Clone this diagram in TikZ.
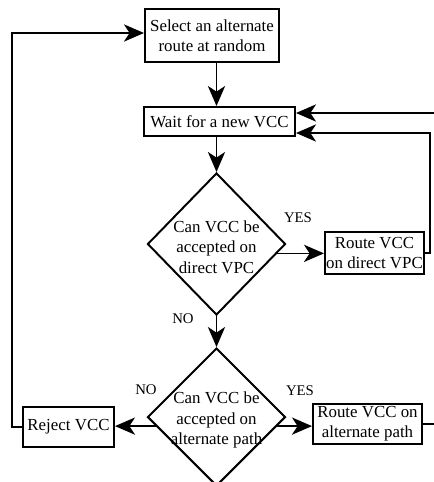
\documentclass[tikz,border=0pt]{standalone}
\usepackage{fontspec}
\setmainfont{Liberation Serif}
\usetikzlibrary{shapes.geometric,arrows.meta,calc}
\tikzset{>={Stealth[length=5mm,width=4.3mm,inset=1.4mm]}}

\begin{document}
\begin{tikzpicture}[x=0.025cm,y=-0.025cm,
    box/.style={draw,line width=1.4pt,inner sep=0pt,align=center,font=\fontsize{12}{14.5}\selectfont},
    decision/.style={draw,diamond,line width=1.4pt,inner sep=0pt},
    question/.style={align=center,inner sep=0pt,font=\fontsize{12}{14.5}\selectfont},
    answer/.style={font=\fontsize{10.5}{12}\selectfont},
    flow/.style={-{Stealth[length=5mm,width=4.3mm,inset=1.4mm]},line width=1.2pt}]
    \useasboundingbox (0,0) rectangle (434,482);
    \node[box,minimum width=3.35cm,minimum height=1.325cm] (select) at (212,35.5) {Select an alternate\\route at random};
    \node[box,minimum width=3.775cm,minimum height=0.725cm] (wait) at (219.5,121.5) {Wait for a new VCC};
    \node[decision,minimum width=3.45cm,minimum height=3.55cm] (d1) at (216.5,244) {};
    \node[question] (d1text) at (216.5,247) {Can VCC be\\accepted on\\direct VPC};
    \node[box,minimum width=2.475cm,minimum height=1.05cm] (direct) at (374.5,253) {Route VCC\\on direct VPC};
    \node[decision,minimum width=3.45cm,minimum height=3.45cm] (d2) at (216.5,417) {};
    \node[question] (d2text) at (216.5,420) {Can VCC be\\accepted on\\alternate path};
    \node[box,minimum width=2.275cm,minimum height=1cm] (reject) at (68.5,427) {Reject VCC};
    \node[box,minimum width=2.725cm,minimum height=1cm] (alt) at (367.5,424) {Route VCC on\\alternate path};
    \node[answer] (yes1) at (298,218) {YES};
    \node[answer] (no1) at (183,319) {NO};
    \node[answer] (no2) at (146,390) {NO};
    \node[answer] (yes2) at (300,391) {YES};
    \coordinate (d1r) at ($(d1.east)!0.13!(d1.south)$);
    \coordinate (d2r) at ($(d2.east)!0.13!(d2.south)$);
    \coordinate (d2l) at ($(d2.west)!0.13!(d2.south)$);
    \coordinate (back1) at (430,253);
    \coordinate (back2) at (430,133);
    \coordinate (in1) at (434,113);
    \coordinate (out2) at (434,424);
    \coordinate (left1) at (12,427);
    \coordinate (left2) at (12,33);
    \draw[flow] (select.south -| d1) -- (d1 |- wait.north);
    \draw[flow] (wait.south -| d1) -- (d1.north);
    \draw[flow] (d1r) -- (d1r -| direct.west);
    \draw[flow] (d1.south) -- (d2.north);
    \draw[flow] (d2r) -- (d2r -| alt.west);
    \draw[flow] (d2l) -- (d2l -| reject.east);
    \draw[flow] (direct.east) -- (back1) -- (back2) -- (back2 -| wait.east);
    \draw[flow] (in1) -- (in1 -| wait.east);
    \draw[line width=1.2pt] (alt.east) -- (out2);
    \draw[flow] (reject.west) -- (left1) -- (left2) -- (left2 -| select.west);
\end{tikzpicture}
\end{document}
